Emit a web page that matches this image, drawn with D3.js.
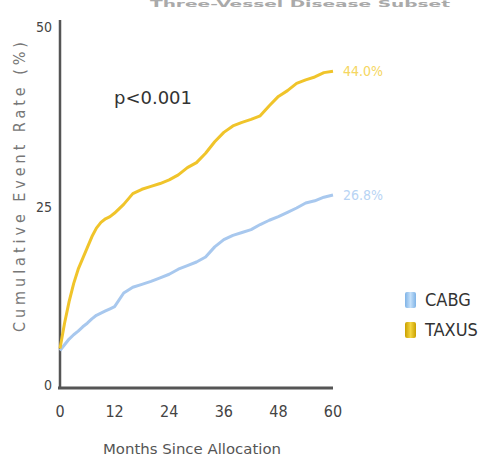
<!DOCTYPE html>
<html>
<head>
<meta charset="utf-8">
<script src="https://cdn.jsdelivr.net/npm/d3@7/dist/d3.min.js"></script>
<style>
  html, body { margin: 0; padding: 0; background: #fff; }
  svg { display: block; }
  text { font-family: "Liberation Sans Narrow", "DejaVu Sans Condensed", "Liberation Sans", sans-serif; }
</style>
</head>
<body>
<svg id="chart" width="494" height="458"></svg>
<script>
const months = [0,1,2,3,4,5,6,7,8,9,10,11,12,14,16,18,20,22,24,26,28,30,32,34,36,38,40,42,44,46,48,50,52,54,56,58,60];
const taxus  = [5.5,9,12,14.5,16.5,18,19.5,21,22.2,23,23.5,23.8,24.3,25.5,27,27.6,28,28.4,28.9,29.6,30.6,31.3,32.6,34.2,35.5,36.4,36.9,37.3,37.8,39.2,40.5,41.3,42.3,42.8,43.2,43.8,44.0];
const cabg   = [5.2,6.0,6.8,7.4,7.9,8.5,9.0,9.6,10.1,10.4,10.7,11.0,11.3,13.2,14.0,14.4,14.8,15.3,15.8,16.5,17.0,17.5,18.2,19.6,20.6,21.2,21.6,22.0,22.7,23.3,23.8,24.4,25.0,25.7,26.0,26.5,26.8];
const xTicks = [0,12,24,36,48,60];
const yTicks = [0,25,50];
const seriesNames = ["CABG","TAXUS"];
const endLabels = ["26.8%","44.0%"];
const pValue = "p<0.001";
const title = "Three-Vessel Disease Subset";

const svg = d3.select("#chart");
const x = d3.scaleLinear().domain([0,60]).range([60,333]);
const y = d3.scaleLinear().domain([0,50]).range([388,28]);

const colors = { CABG: "#a8c8ee", TAXUS: "#f0c42a" };

// title (mostly out of frame in the reference; kept small and visible)
svg.append("text").attr("x", 300).attr("y", 7).attr("text-anchor","middle")
  .attr("font-size", 9).attr("font-weight","bold").attr("fill","#aaa")
  .attr("textLength", 300).attr("lengthAdjust","spacingAndGlyphs").text(title);

// axes lines
svg.append("line").attr("x1",60).attr("x2",60).attr("y1",20).attr("y2",389)
  .attr("stroke","#555").attr("stroke-width",2.5);
svg.append("line").attr("x1",58).attr("x2",x(60)).attr("y1",388).attr("y2",388)
  .attr("stroke","#555").attr("stroke-width",3);

// y tick labels
svg.selectAll(".yt").data(yTicks).enter().append("text")
  .attr("x", 52).attr("y", d => y(d) + (d===0 ? -2 : 0))
  .attr("text-anchor","end").attr("dominant-baseline","middle")
  .attr("font-size", 14).attr("fill","#444").text(d => d);

// x tick labels
svg.selectAll(".xt").data(xTicks).enter().append("text")
  .attr("x", d => x(d)).attr("y", 412).attr("text-anchor","middle")
  .attr("dominant-baseline","middle").attr("font-size", 16).attr("fill","#444").text(d => d);

// axis titles
svg.append("text").attr("x", 192).attr("y", 450).attr("text-anchor","middle")
  .attr("dominant-baseline","middle").attr("font-size", 14).attr("fill","#555")
  .attr("textLength", 178).attr("lengthAdjust","spacingAndGlyphs")
  .text("Months Since Allocation");
svg.append("text").attr("transform","translate(20,187) rotate(-90)").attr("text-anchor","middle")
  .attr("dominant-baseline","middle").attr("font-size", 16)
  .attr("textLength", 290).attr("lengthAdjust","spacing")
  .attr("fill","#777").text("Cumulative Event Rate (%)");

// lines
const line = vals => d3.line().x((d,i) => x(months[i])).y(d => y(d))(vals);
svg.append("path").attr("d", line(cabg)).attr("fill","none")
  .attr("stroke", colors.CABG).attr("stroke-width", 3).attr("stroke-linejoin","round");
svg.append("path").attr("d", line(taxus)).attr("fill","none")
  .attr("stroke", colors.TAXUS).attr("stroke-width", 3).attr("stroke-linejoin","round");

// end labels
svg.append("text").attr("x", 343).attr("y", y(cabg[cabg.length-1])+1).attr("dominant-baseline","middle")
  .attr("font-size", 14).attr("fill", "#b8d4f4").text(endLabels[0]);
svg.append("text").attr("x", 343).attr("y", y(taxus[taxus.length-1])+1).attr("dominant-baseline","middle")
  .attr("font-size", 14).attr("fill", "#f5d660").text(endLabels[1]);

// p-value
svg.append("text").attr("x", 114).attr("y", 99).attr("dominant-baseline","middle")
  .attr("font-size", 18).attr("fill","#333")
  .attr("textLength", 78).attr("lengthAdjust","spacingAndGlyphs").text(pValue);

// legend
const defs = svg.append("defs");
const grads = [["gC","#7fb3e6","#c4e0fa"],["gT","#c9a000","#f5d640"]];
grads.forEach(([id,c1,c2]) => {
  const g = defs.append("linearGradient").attr("id",id).attr("x1","0").attr("x2","1");
  g.append("stop").attr("offset","0").attr("stop-color",c1);
  g.append("stop").attr("offset","0.5").attr("stop-color",c2);
  g.append("stop").attr("offset","1").attr("stop-color",c1);
});
const leg = svg.selectAll(".leg").data(seriesNames).enter().append("g")
  .attr("transform",(d,i) => `translate(405,${292 + i*30})`);
leg.append("rect").attr("width",11).attr("height",16).attr("rx",2)
  .attr("fill",(d,i) => `url(#${grads[i][0]})`);
leg.append("text").attr("x", 20).attr("y", 9).attr("dominant-baseline","middle")
  .attr("font-size", 18).attr("fill","#333").text(d => d);
</script>
</body>
</html>
